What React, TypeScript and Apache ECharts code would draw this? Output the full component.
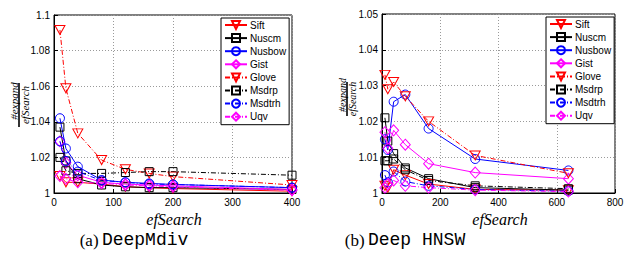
import React, { useEffect, useRef } from "react";
import * as echarts from "echarts";

// ---- data ----
const seriesNames = ["Sift", "Nuscm", "Nusbow", "Gist", "Glove", "Msdrp", "Msdtrh", "Uqv"];

const mdivX = [10, 20, 40, 80, 120, 160, 200, 400];
const mdivSift = [1.0095, 1.006, 1.006, 1.005, 1.0035, 1.003, 1.0025, 1.001];
const mdivNuscm = [1.037, 1.018, 1.008, 1.0045, 1.0035, 1.003, 1.003, 1.002];
const mdivNusbow = [1.042, 1.025, 1.0148, 1.0073, 1.006, 1.0054, 1.0048, 1.003];
const mdivGist = [1.029, 1.017, 1.01, 1.006, 1.005, 1.0045, 1.004, 1.002];
const mdivGlove = [1.0916, 1.0588, 1.0335, 1.0185, 1.0133, 1.011, 1.0092, 1.0045];
const mdivMsdrp = [1.02, 1.0125, 1.011, 1.011, 1.0115, 1.012, 1.012, 1.01];
const mdivMsdtrh = [1.029, 1.018, 1.012, 1.007, 1.006, 1.005, 1.0048, 1.003];
const mdivUqv = [1.0095, 1.008, 1.006, 1.0055, 1.0045, 1.004, 1.0035, 1.0015];

const hnswX = [10, 20, 40, 80, 160, 320, 640];
const hnswSift = [1.002, 1.0015, 1.0065, 1.005, 1.0025, 1.001, 1.0008];
const hnswNuscm = [1.021, 1.0145, 1.011, 1.007, 1.004, 1.0015, 1.0008];
const hnswNusbow = [1.015, 1.012, 1.0255, 1.0275, 1.018, 1.0095, 1.0063];
const hnswGist = [1.017, 1.0125, 1.0175, 1.0135, 1.0082, 1.0057, 1.004];
const hnswGlove = [1.033, 1.029, 1.031, 1.027, 1.02, 1.0105, 1.0055];
const hnswMsdrp = [1.009, 1.009, 1.0095, 1.0065, 1.0035, 1.002, 1.0012];
const hnswMsdtrh = [1.005, 1.003, 1.006, 1.0032, 1.002, 1.001, 1.0005];
const hnswUqv = [1.0015, 1.0025, 1.0035, 1.002, 1.0015, 1.0008, 1.0004];

const mdivTicksX = [0, 400, 100];
const mdivTicksY = [1, 1.1, 0.02];
const hnswTicksX = [0, 800, 200];
const hnswTicksY = [1, 1.05, 0.01];

// ---- styles ----
const RED = "#ff0000";
const BLACK = "#000000";
const BLUE = "#0000ff";
const MAG = "#ff00ff";
const DASHDOT = [5, 2, 1, 2];

const styleFor: Record<string, any> = {
  Sift: { color: RED, symbol: "triangle", rotate: 180, size: [10, 9], dash: "solid" },
  Nuscm: { color: BLACK, symbol: "rect", rotate: 0, size: 8, dash: "solid" },
  Nusbow: { color: BLUE, symbol: "circle", rotate: 0, size: 9, dash: "solid" },
  Gist: { color: MAG, symbol: "diamond", rotate: 0, size: [10, 11], dash: "solid" },
  Glove: { color: RED, symbol: "triangle", rotate: 180, size: [10, 9], dash: DASHDOT },
  Msdrp: { color: BLACK, symbol: "rect", rotate: 0, size: 8, dash: DASHDOT },
  Msdtrh: { color: BLUE, symbol: "circle", rotate: 0, size: 9, dash: DASHDOT },
  Uqv: { color: MAG, symbol: "diamond", rotate: 0, size: [10, 11], dash: DASHDOT },
};

function makeSeries(name: string, xs: number[], ys: number[], idx: number) {
  const s = styleFor[name];
  return {
    type: "line",
    name,
    xAxisIndex: idx,
    yAxisIndex: idx,
    data: xs.map((x, i) => [x, ys[i]]),
    symbol: s.symbol,
    symbolRotate: s.rotate,
    symbolSize: s.size,
    showSymbol: true,
    lineStyle: { color: s.color, width: 1, type: s.dash },
    itemStyle: { color: "rgba(0,0,0,0)", borderColor: s.color, borderWidth: 1 },
    emphasis: { disabled: true },
    z: 3,
  };
}

const fmt = (v: number) => String(+v.toFixed(2));

function axisPair(gridIndex: number, xt: number[], yt: number[]) {
  const common = {
    gridIndex,
    axisLine: { show: true, lineStyle: { color: "#000", width: 1 } },
    axisTick: { show: true, inside: true, length: 4, lineStyle: { color: "#000" } },
    splitLine: { show: true, lineStyle: { color: "#9a9a9a", type: [1, 2], width: 1 } },
  };
  return {
    x: {
      ...common,
      type: "value",
      min: xt[0],
      max: xt[1],
      interval: xt[2],
      axisLabel: { color: "#000", fontSize: 10, fontFamily: "Liberation Sans", margin: 4 },
    },
    y: {
      ...common,
      type: "value",
      min: yt[0],
      max: yt[1],
      interval: yt[2],
      axisLabel: { color: "#000", fontSize: 10, fontFamily: "Liberation Sans", margin: 4, formatter: fmt },
    },
  };
}

function legendAt(left: number, top: number) {
  return {
    orient: "vertical",
    left,
    top,
    data: seriesNames,
    itemWidth: 22,
    itemHeight: 10,
    itemGap: 3.1,
    padding: [2, 3, 3, 3],
    backgroundColor: "#fff",
    borderColor: "#000",
    borderWidth: 1,
    borderRadius: 0,
    selectedMode: false,
    textStyle: { color: "#000", fontSize: 10, fontFamily: "Liberation Sans", padding: [0, 0, 0, -2] },
    z: 10,
  };
}

function yFraction(cx: number, cy: number, fs: number, len: number) {
  return [
    {
      type: "text",
      x: cx - fs * 0.5,
      y: cy - 4,
      rotation: Math.PI / 2,
      style: {
        text: "#expand",
        font: `italic ${fs}px 'Liberation Serif'`,
        fill: "#000",
        align: "center",
        verticalAlign: "middle",
      },
    },
    {
      type: "line",
      shape: { x1: cx, y1: cy - len / 2, x2: cx, y2: cy + len / 2 },
      style: { stroke: "#000", lineWidth: 1.6 },
    },
    {
      type: "text",
      x: cx + fs * 0.5,
      y: cy,
      rotation: Math.PI / 2,
      style: {
        text: "efSearch",
        font: `italic ${fs}px 'Liberation Serif'`,
        fill: "#000",
        align: "center",
        verticalAlign: "middle",
      },
    },
  ];
}

function caption(cx: number, cy: number, tag: string, name: string) {
  return {
    type: "text",
    x: cx,
    y: cy,
    style: {
      text: `{s|${tag}} {m|${name}}`,
      align: "center",
      verticalAlign: "middle",
      fill: "#000",
      rich: {
        s: { fontFamily: "Liberation Serif", fontSize: 17, fill: "#000" },
        m: { fontFamily: "Liberation Mono", fontSize: 18, fill: "#000" },
      },
    },
  };
}

export default function App() {
  const ref = useRef<HTMLDivElement>(null);
  useEffect(() => {
    if (!ref.current) return;
    const chart = echarts.init(ref.current, undefined, { renderer: "svg" });
    const a = axisPair(0, mdivTicksX, mdivTicksY);
    const b = axisPair(1, hnswTicksX, hnswTicksY);
    const mdivData: Record<string, number[]> = {
      Sift: mdivSift, Nuscm: mdivNuscm, Nusbow: mdivNusbow, Gist: mdivGist,
      Glove: mdivGlove, Msdrp: mdivMsdrp, Msdtrh: mdivMsdtrh, Uqv: mdivUqv,
    };
    const hnswData: Record<string, number[]> = {
      Sift: hnswSift, Nuscm: hnswNuscm, Nusbow: hnswNusbow, Gist: hnswGist,
      Glove: hnswGlove, Msdrp: hnswMsdrp, Msdtrh: hnswMsdtrh, Uqv: hnswUqv,
    };
    const series: any[] = [];
    seriesNames.forEach((n) => series.push(makeSeries(n, mdivX, mdivData[n], 0)));
    seriesNames.forEach((n) => series.push(makeSeries(n, hnswX, hnswData[n], 1)));

    chart.setOption({
      animation: false,
      backgroundColor: "#fff",
      grid: [
        { left: 54, top: 15, width: 238, height: 178, show: true, borderColor: "#000", borderWidth: 1, backgroundColor: "#fff" },
        { left: 382, top: 14, width: 233, height: 179, show: true, borderColor: "#000", borderWidth: 1, backgroundColor: "#fff" },
      ],
      xAxis: [a.x, b.x],
      yAxis: [a.y, b.y],
      legend: [legendAt(221, 18), legendAt(546, 17)],
      series,
      graphic: [
        ...yFraction(19, 105, 11, 44),
        ...yFraction(347, 99, 10, 34),
        {
          type: "text",
          x: 174,
          y: 219,
          style: { text: "efSearch", font: "italic 16px 'Liberation Serif'", fill: "#000", align: "center", verticalAlign: "middle" },
        },
        {
          type: "text",
          x: 500,
          y: 219,
          style: { text: "efSearch", font: "italic 16px 'Liberation Serif'", fill: "#000", align: "center", verticalAlign: "middle" },
        },
        caption(134, 240, "(a)", "DeepMdiv"),
        caption(405, 240, "(b)", "Deep HNSW"),
      ],
    });
    return () => chart.dispose();
  }, []);
  return <div ref={ref} style={{ position: "absolute", left: 0, top: 0, width: 627, height: 259 }} />;
}
